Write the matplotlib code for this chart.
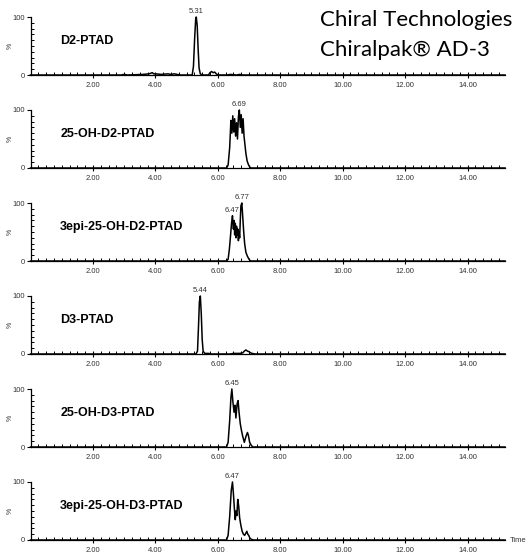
import numpy as np
from matplotlib import pyplot as plt
from matplotlib.ticker import MultipleLocator

# compound names per panel
names = ["D2-PTAD", "25-OH-D2-PTAD", "3epi-25-OH-D2-PTAD",
         "D3-PTAD", "25-OH-D3-PTAD", "3epi-25-OH-D3-PTAD"]

# chromatogram traces (time in min, intensity in %)
t_d2 = [0, 2.9, 3.0, 3.1, 3.6, 3.8, 3.9, 3.95, 4.0, 4.2, 4.4, 4.5, 4.6, 4.8, 5.0, 5.18,
        5.22, 5.26, 5.29, 5.31, 5.34, 5.37, 5.4, 5.44, 5.5, 5.7, 5.75, 5.8, 5.85, 5.9,
        5.95, 6.0, 6.3, 6.4, 6.6, 6.7, 6.8, 15.2]
i_d2 = [0, 0, 1, 0, 1, 2, 4, 2, 2, 1, 2, 1, 2, 0, 0, 0,
        15, 65, 95, 100, 85, 45, 12, 2, 0, 0, 4, 6, 4, 5,
        2, 0, 0, 1, 0, 1, 0, 0]

t_oh_d2 = [0, 6.28, 6.33, 6.38, 6.42, 6.45, 6.48, 6.51, 6.54, 6.57, 6.6, 6.63, 6.66,
           6.69, 6.72, 6.75, 6.78, 6.81, 6.84, 6.87, 6.9, 6.94, 6.98, 7.02, 7.06, 15.2]
i_oh_d2 = [0, 0, 5, 35, 82, 60, 90, 62, 85, 55, 78, 50, 88,
           100, 70, 92, 60, 85, 55, 40, 25, 12, 6, 2, 0, 0]

t_epi_d2 = [0, 6.28, 6.33, 6.37, 6.41, 6.44, 6.47, 6.5, 6.52, 6.54, 6.56, 6.58, 6.6,
            6.62, 6.64, 6.66, 6.68, 6.7, 6.72, 6.74, 6.77, 6.8, 6.83, 6.86, 6.9, 6.95,
            7.0, 7.05, 15.2]
i_epi_d2 = [0, 0, 3, 20, 45, 65, 78, 55, 70, 45, 65, 40, 60,
            45, 55, 35, 50, 40, 70, 95, 100, 75, 50, 30, 15, 8,
            3, 0, 0]

t_d3 = [0, 5.3, 5.35, 5.38, 5.41, 5.44, 5.47, 5.5, 5.53, 5.58, 5.7, 5.8, 6.4, 6.5,
        6.6, 6.7, 6.8, 6.85, 6.9, 6.95, 7.0, 7.05, 7.1, 7.2, 15.2]
i_d3 = [0, 0, 5, 45, 90, 100, 70, 25, 5, 1, 1, 0, 0, 1,
        1, 1, 2, 5, 7, 5, 4, 2, 1, 0, 0]

t_oh_d3 = [0, 6.28, 6.33, 6.38, 6.42, 6.45, 6.48, 6.52, 6.55, 6.58, 6.62, 6.65, 6.68,
           6.72, 6.76, 6.8, 6.85, 6.9, 6.95, 6.98, 7.02, 7.07, 7.12, 15.2]
i_oh_d3 = [0, 0, 8, 45, 85, 100, 80, 60, 72, 50, 75, 80, 60,
           40, 28, 18, 8, 18, 25, 20, 8, 3, 0, 0]

t_epi_d3 = [0, 6.28, 6.33, 6.38, 6.43, 6.47, 6.5, 6.53, 6.56, 6.58, 6.61, 6.64, 6.67,
            6.7, 6.74, 6.78, 6.82, 6.86, 6.9, 6.93, 6.96, 6.99, 7.03, 7.08, 7.15, 15.2]
i_epi_d3 = [0, 0, 8, 40, 85, 100, 80, 55, 35, 50, 42, 70, 58,
            38, 25, 15, 10, 8, 12, 15, 10, 8, 3, 1, 0, 0]

times = [t_d2, t_oh_d2, t_epi_d2, t_d3, t_oh_d3, t_epi_d3]
intens = [i_d2, i_oh_d2, i_epi_d2, i_d3, i_oh_d3, i_epi_d3]

# peak labels: (retention time, height %)
peaks = [[(5.31, 100)], [(6.69, 100)], [(6.47, 78), (6.77, 100)],
         [(5.44, 100)], [(6.45, 100)], [(6.47, 100)]]

W, H = 529, 558
fig = plt.figure(figsize=(W / 100, H / 100), dpi=100)

x0_px, x1_px = 30.5, 505
for k in range(6):
    y100 = 17 + 93 * k
    y0 = 75 + 93 * k
    ax = fig.add_axes([x0_px / W, 1 - y0 / H, (x1_px - x0_px) / W, (y0 - y100) / H])
    ax.plot(times[k], intens[k], color='k', lw=1.1, clip_on=False)
    ax.set_xlim(0, 15.2)
    ax.set_ylim(0, 100)
    for s in ['top', 'right']:
        ax.spines[s].set_visible(False)
    for s in ['left', 'bottom']:
        ax.spines[s].set_linewidth(0.9)

    ax.set_xticks([2, 4, 6, 8, 10, 12, 14])
    ax.set_xticklabels(["%.2f" % v for v in [2, 4, 6, 8, 10, 12, 14]])
    ax.xaxis.set_minor_locator(MultipleLocator(0.25))
    ax.set_yticks([0, 100])
    ax.set_yticklabels(["0", "100"])
    ax.yaxis.set_minor_locator(MultipleLocator(10))
    ax.tick_params(axis='x', which='major', direction='inout', length=4, width=0.8,
                   labelsize=5.5, labelcolor='#333333', pad=3)
    ax.tick_params(axis='x', which='minor', direction='in', length=2.5, width=0.7)
    ax.tick_params(axis='y', which='major', direction='out', length=3, width=0.8,
                   labelsize=5.5, labelcolor='#333333', pad=1)
    ax.tick_params(axis='y', which='minor', direction='in', length=2.5, width=0.7)
    for lab in ax.get_xticklabels() + ax.get_yticklabels():
        lab.set_family('Liberation Sans')

    ax.text(-0.042, 0.5, "%", transform=ax.transAxes, rotation=90, fontsize=5,
            ha='center', va='center', color='#333333', family='Liberation Sans')
    ax.text(0.95, 58, names[k], fontsize=9, fontweight='bold',
            family='Liberation Sans', va='center', ha='left')
    for pt, ph in peaks[k]:
        ax.text(pt, ph + 3, "%.2f" % pt, fontsize=5.5, ha='center', va='bottom',
                color='#333333', family='Liberation Sans')

ax.text(15.35, 0, "Time", fontsize=5.5, ha='left', va='center',
        color='#333333', family='Liberation Sans')

fig.text(320 / W, 1 - 20 / H, "Chiral Technologies", fontsize=16,
         family='Lato', ha='left', va='center')
fig.text(320 / W, 1 - 50 / H, "Chiralpak\u00ae AD-3", fontsize=16,
         family='Lato', ha='left', va='center')

fig.savefig("out.png", dpi=100)
